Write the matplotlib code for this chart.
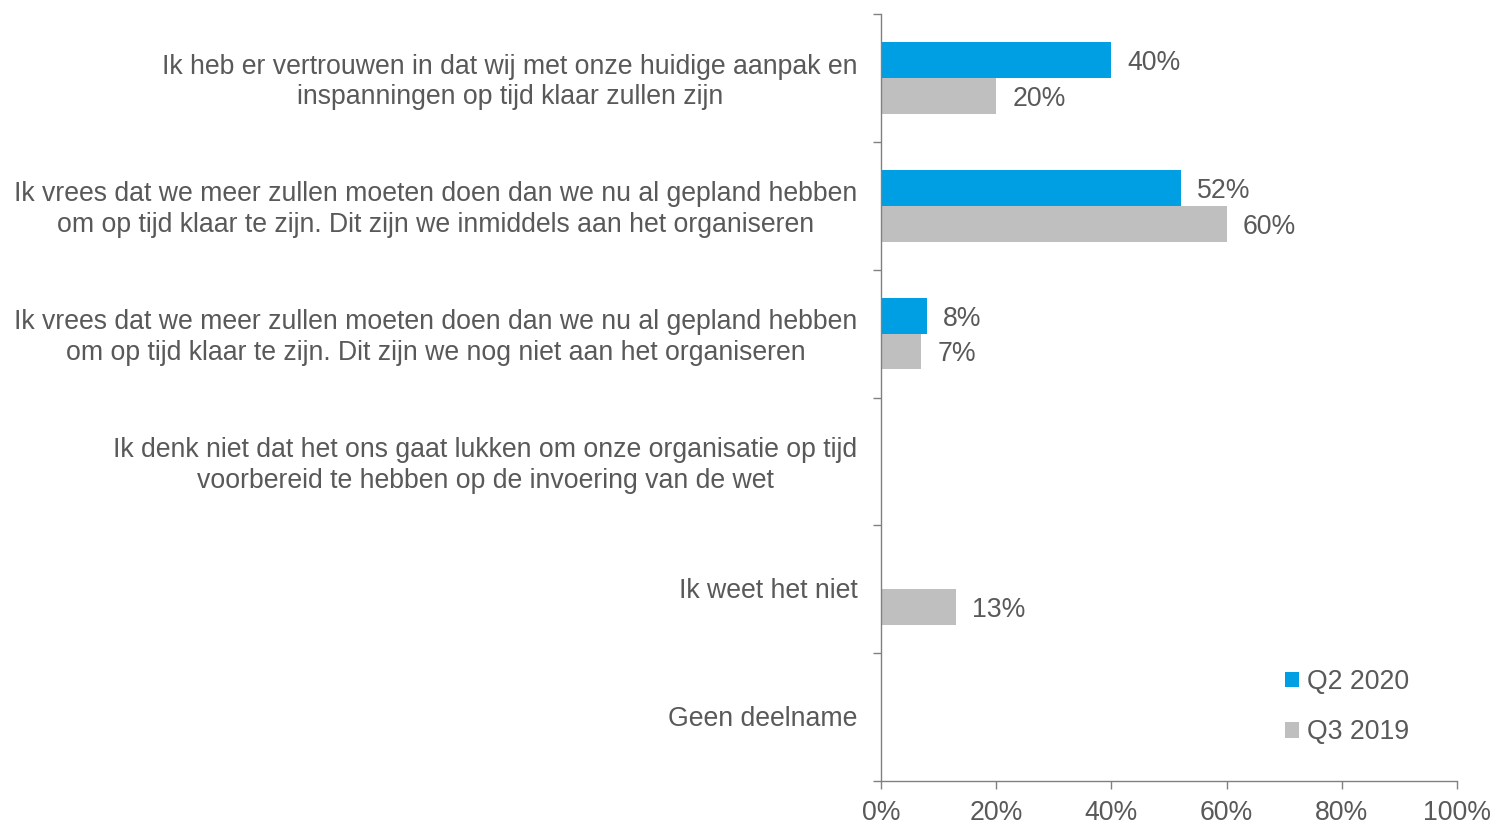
import matplotlib
matplotlib.use("Agg")
import matplotlib.pyplot as plt
import numpy as np

categories = [
    "Ik heb er vertrouwen in dat wij met onze huidige aanpak en\ninspanningen op tijd klaar zullen zijn",
    "Ik vrees dat we meer zullen moeten doen dan we nu al gepland hebben\nom op tijd klaar te zijn. Dit zijn we inmiddels aan het organiseren",
    "Ik vrees dat we meer zullen moeten doen dan we nu al gepland hebben\nom op tijd klaar te zijn. Dit zijn we nog niet aan het organiseren",
    "Ik denk niet dat het ons gaat lukken om onze organisatie op tijd\nvoorbereid te hebben op de invoering van de wet",
    "Ik weet het niet",
    "Geen deelname",
]
series_names = ["Q2 2020", "Q3 2019"]
q2_2020 = [40, 52, 8, 0, 0, 0]
q3_2019 = [20, 60, 7, 0, 13, 0]
xticks = [0, 20, 40, 60, 80, 100]
xtick_labels = ["0%", "20%", "40%", "60%", "80%", "100%"]

blue = "#009FE3"
grey = "#BFBFBF"
txt = "#595959"
axc = "#808080"
fs = 19.2

plt.rcParams['font.family'] = ['Liberation Sans', 'DejaVu Sans']

fig = plt.figure(figsize=(14.93, 8.25), dpi=100)
ax = fig.add_axes([881/1493, 1-781/825, (1457-881)/1493, (781-14)/825])

n = len(categories)
y = np.arange(n)
h = 0.28
b1 = ax.barh(y - h/2, q2_2020, height=h, color=blue, label=series_names[0])
b2 = ax.barh(y + h/2, q3_2019, height=h, color=grey, label=series_names[1])

for bars, vals in ((b1, q2_2020), (b2, q3_2019)):
    for rect, v in zip(bars, vals):
        if v > 0:
            ax.annotate(f"{v}%", (v, rect.get_y() + rect.get_height()/2),
                        xytext=(11.5, 0), textcoords="offset points",
                        ha="left", va="center_baseline", fontsize=fs, color=txt)

ax.set_ylim(n - 0.5, -0.5)
ax.set_xlim(0, 100)
ax.set_xticks(xticks)
ax.set_xticklabels(xtick_labels, fontsize=fs, color=txt)

ax.set_yticks(np.arange(n + 1) - 0.5)
ax.set_yticklabels([])
ax.set_yticks(y - 0.01, minor=True)
ax.set_yticklabels(categories, minor=True, fontsize=fs, color=txt,
                   multialignment="center", linespacing=1.22)
ax.tick_params(axis="y", which="minor", length=0, pad=17)
ax.tick_params(axis="y", which="major", length=6, color=axc, width=1)
ax.tick_params(axis="x", length=6, color=axc, width=1, pad=8)

for s in ("top", "right"):
    ax.spines[s].set_visible(False)
for s in ("left", "bottom"):
    ax.spines[s].set_color(axc)
    ax.spines[s].set_linewidth(1)

leg = ax.legend(loc="lower right", bbox_to_anchor=(0.958, 0.015), frameon=False,
                fontsize=fs, handlelength=0.5, handleheight=0.5,
                handletextpad=0.3, labelspacing=0.93, labelcolor=txt)

fig.savefig("out.png", dpi=100)
